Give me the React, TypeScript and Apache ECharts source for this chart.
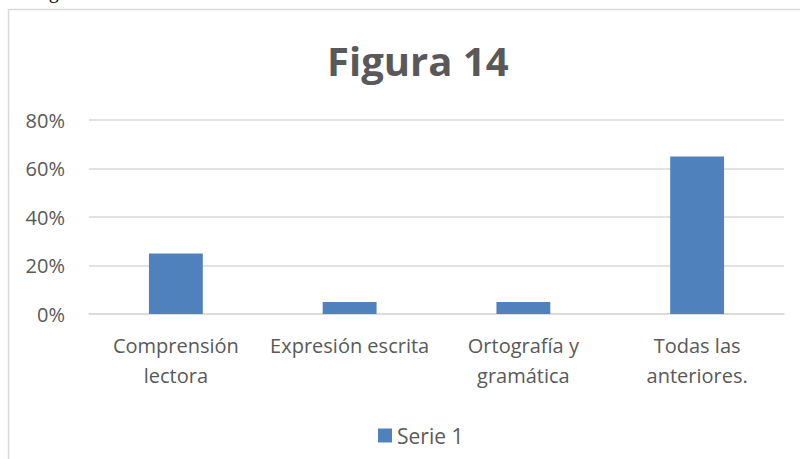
import React, { useEffect, useRef } from "react";
import * as echarts from "echarts";

const categories = ["Comprensión\nlectora", "Expresión escrita", "Ortografía y\ngramática", "Todas las\nanteriores."];
const serie1 = [0.25, 0.05, 0.05, 0.65];
const seriesName = "Serie 1";
const titleText = "Figura 14";

export default function App() {
  const ref = useRef<HTMLDivElement>(null);
  useEffect(() => {
    if (!ref.current) return;
    const chart = echarts.init(ref.current, undefined, { renderer: "svg" });
    const font = "'Open Sans', sans-serif";
    chart.setOption({
      animation: false,
      backgroundColor: "#ffffff",
      title: {
        text: titleText,
        left: 322,
        top: 35,
        textStyle: { fontFamily: font, fontSize: 40, fontWeight: "bold", color: "#595959" },
      },
      graphic: [
        {
          type: "rect",
          shape: { x: 8.5, y: 9.5, width: 820, height: 470 },
          style: { fill: "none", stroke: "#d9d9d9", lineWidth: 1.5 },
          silent: true,
        },
        {
          type: "text",
          left: 32,
          top: -19,
          style: { text: "Figura", font: "20px 'Liberation Serif', serif", fill: "#000000" },
          silent: true,
        },
      ],
      legend: {
        data: [seriesName],
        left: 373,
        top: 420,
        itemWidth: 14,
        itemHeight: 14,
        itemGap: 6,
        icon: "rect",
        textStyle: { fontFamily: font, fontSize: 21, color: "#595959" },
      },
      grid: { left: 89, right: 16, top: 120, bottom: 145, containLabel: false },
      xAxis: {
        type: "category",
        data: categories,
        axisLine: { show: true, lineStyle: { color: "#d9d9d9", width: 1.5 } },
        axisTick: { show: false },
        axisLabel: {
          fontFamily: font,
          fontSize: 20,
          color: "#595959",
          lineHeight: 30,
          margin: 16,
          interval: 0,
        },
      },
      yAxis: {
        type: "value",
        min: 0,
        max: 0.8,
        interval: 0.2,
        axisLine: { show: false },
        axisTick: { show: false },
        splitLine: { lineStyle: { color: "#d9d9d9", width: 1.5 } },
        axisLabel: {
          fontFamily: font,
          fontSize: 20,
          color: "#595959",
          margin: 24,
          formatter: (v: number) => Math.round(v * 100) + "%",
        },
      },
      series: [
        {
          name: seriesName,
          type: "bar",
          data: serie1,
          barWidth: "31%",
          itemStyle: { color: "#4f81bd" },
        },
      ],
    });
    return () => chart.dispose();
  }, []);
  return <div ref={ref} style={{ position: "fixed", left: 0, top: 0, width: 800, height: 459 }} />;
}
